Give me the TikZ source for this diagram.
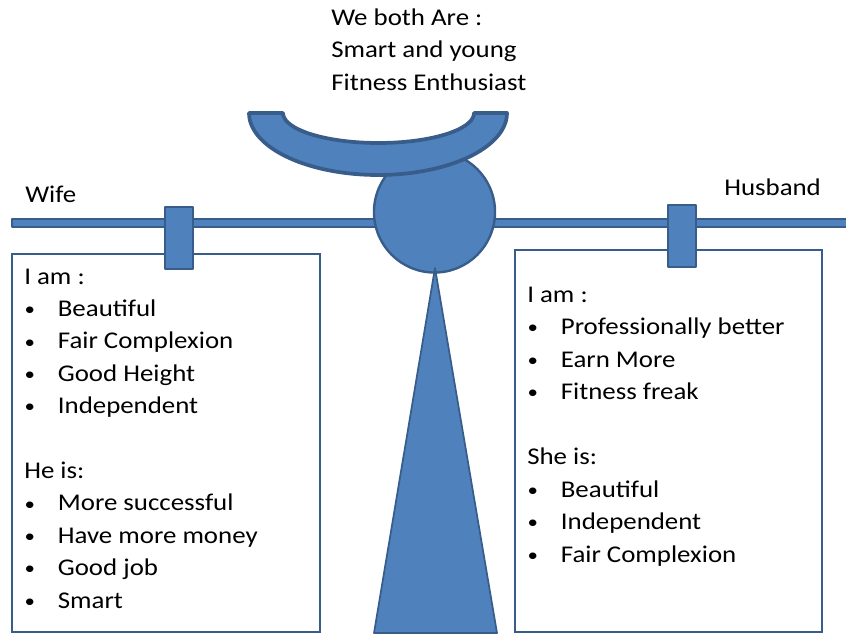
\documentclass[tikz,border=0pt]{standalone}
\usepackage{fontspec}
\setmainfont{Carlito}[FakeStretch=1.12]
\usepackage{tikz}
\usetikzlibrary{positioning}
\definecolor{scaleBlue}{RGB}{79, 129, 189}
\definecolor{scaleEdge}{RGB}{56, 93, 138}
\newcommand{\bul}[1]{\makebox[25.2pt][l]{\hspace{0.3pt}\raisebox{0.6pt}{\fontsize{14}{14}\selectfont\textbullet}}#1}

\begin{document}
\begin{tikzpicture}[x=0.75pt, y=-0.75pt,
    part/.style={fill=scaleBlue, draw=scaleEdge, line width=1.3pt, line join=round},
    listbox/.style={draw=scaleEdge, line width=1.4pt, fill=white},
    listtext/.style={anchor=base west, inner sep=0pt, font=\fontsize{18}{22}\selectfont}]
        \clip (0,0) rectangle (846,635);
        % beam and pivot
        \filldraw[part, line width=1pt] (12,219) rectangle (850,227);
        \filldraw[part, line width=1.8pt] (434.5,212) circle (45.4pt);
        \filldraw[part] (435,268) -- (497,633) -- (374,633) -- cycle;
        % the bowl on top
        \filldraw[part, line width=2.8pt] (249,113) -- (283,113)
            -- plot[domain=180:360, smooth, samples=40] ({378.5+95.5*cos(\x)},{113-30*sin(\x)})
            -- (507,113)
            -- plot[domain=360:180, smooth, samples=40] ({378+129*cos(\x)},{113-62*sin(\x)})
            -- cycle;

        % the two lists
        \draw[listbox] (12,254) rectangle (320,632);
        \draw[listbox] (515,250) rectangle (822,632);
        \filldraw[part] (165,207) rectangle (193,269);
        \filldraw[part] (668,205) rectangle (696,267);

        \foreach \txt [count=\i from 0] in {We both Are :, Smart and young, Fitness Enthusiast}
            \node[listtext] (both\i) at (331,25.7+32.2*\i) {\txt};
        \node[listtext] (wife) at (25,202.7) {Wife};
        \node[listtext] (husband) at (724,195.7) {Husband};

        \foreach \txt [count=\i from 0] in {I am :, \bul{Beautiful}, \bul{Fair Complexion}, \bul{Good Height}, \bul{Independent}}
            \node[listtext] (wifeA\i) at (24,284+32.4*\i) {\txt};
        \foreach \txt [count=\i from 0] in {He is:, \bul{More successful}, \bul{Have more money}, \bul{Good job}, \bul{Smart}}
            \node[listtext] (wifeB\i) at (24,478.4+32.4*\i) {\txt};

        \foreach \txt [count=\i from 0] in {I am :, \bul{Professionally better}, \bul{Earn More}, \bul{Fitness freak}}
            \node[listtext] (husbA\i) at (527,302+32.5*\i) {\txt};
        \foreach \txt [count=\i from 0] in {She is:, \bul{Beautiful}, \bul{Independent}, \bul{Fair Complexion}}
            \node[listtext] (husbB\i) at (527,464.5+32.5*\i) {\txt};
    \end{tikzpicture}
\end{document}
